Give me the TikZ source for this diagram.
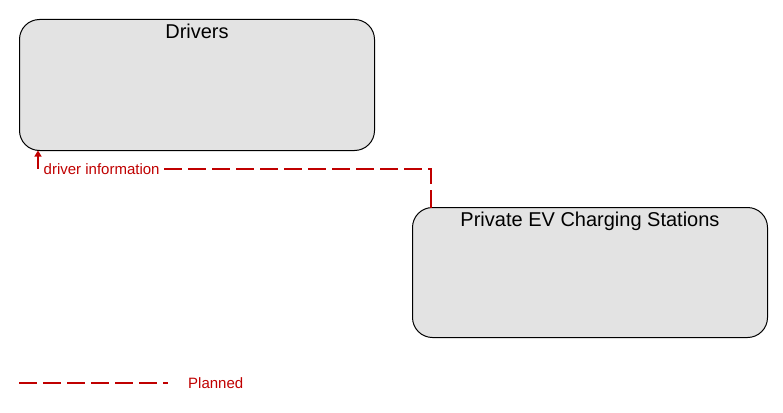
\documentclass[tikz,border=0pt]{standalone}
\usepackage{fontspec}
\setmainfont{Liberation Sans}
\usetikzlibrary{arrows.meta}
\definecolor{plannedRed}{RGB}{192,0,0}
\definecolor{boxGray}{RGB}{227,227,227}
\newcommand\cornerOffset{18.5pt}

\begin{document}
\begin{tikzpicture}[x=1pt, y=-1pt,
    element/.style={draw=black, fill=boxGray, line width=1pt, rounded corners=20pt, minimum width=355pt, inner sep=0pt, outer sep=0pt, anchor=north west},
    title/.style={font=\fontsize{20}{24}\selectfont, anchor=base, inner sep=0pt},
    planned/.style={draw=plannedRed, line width=1.2pt, dash pattern=on 18pt off 6pt},
    flowlabel/.style={font=\fontsize{15}{18}\selectfont, text=plannedRed, fill=white, inner sep=1pt, anchor=west}]
    \useasboundingbox (0,0) rectangle (783,412);
    % Draw the elements with their titles
    \foreach \name/\x/\y/\h/\title in {drivers/19.5/19.5/131/Drivers, ev/412.5/207.5/130/Private EV Charging Stations} {
        \node [element, minimum height=\h pt] (\name) at (\x,\y) {};
        \node [title] (\name-title) at ([yshift=-18.5pt]\name.north) {\title};
    }
    % Draw the flow from the charging stations to the drivers
    \coordinate (bend) at ([xshift=\cornerOffset, yshift=-18.5pt]drivers.south west);
    \draw [planned, -{Triangle[width=7pt,length=6pt]}] ([xshift=\cornerOffset]ev.north west) |- (bend) -- ([xshift=\cornerOffset]drivers.south west);
    \node [flowlabel] (flow-label) at ([xshift=4.5pt]bend) {driver information};
    % Draw the legend
    \coordinate (legend-start) at (19,383);
    \coordinate (legend-end) at (168,383);
    \draw [planned] (legend-start) -- (legend-end);
    \node [flowlabel, fill=none, inner sep=0pt] (legend-label) at (188,383) {Planned};
\end{tikzpicture}
\end{document}
